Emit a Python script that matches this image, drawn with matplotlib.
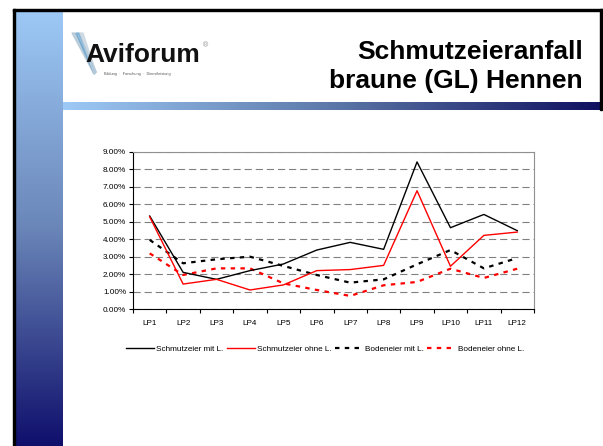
import numpy as np
import matplotlib
matplotlib.use("Agg")
import matplotlib.pyplot as plt
from matplotlib.colors import LinearSegmentedColormap
from matplotlib.patches import Rectangle, Polygon

plt.rcParams['font.family'] = ['Liberation Sans', 'DejaVu Sans']

# Daten (Anteil Schmutzeier in %)
categories = ["LP1", "LP2", "LP3", "LP4", "LP5", "LP6", "LP7", "LP8", "LP9", "LP10", "LP11", "LP12"]
schmutz_mit = [5.33, 2.10, 1.70, 2.20, 2.58, 3.38, 3.82, 3.42, 8.43, 4.66, 5.42, 4.49]
schmutz_ohne = [5.28, 1.43, 1.70, 1.09, 1.38, 2.20, 2.26, 2.50, 6.78, 2.45, 4.22, 4.41]
boden_mit = [3.96, 2.62, 2.85, 3.00, 2.47, 1.95, 1.51, 1.70, 2.56, 3.38, 2.33, 2.92]
boden_ohne = [3.19, 1.95, 2.33, 2.33, 1.47, 1.09, 0.75, 1.36, 1.55, 2.31, 1.78, 2.31]
y_ticks = [0, 1, 2, 3, 4, 5, 6, 7, 8, 9]

W, H = 603, 446
fig = plt.figure(figsize=(W / 100, H / 100), dpi=100)
fig.patch.set_facecolor("white")


def box(x0, y0, x1, y1):
    # Pixel-Koordinaten (oben links) -> figure fractions
    return [x0 / W, 1 - y1 / H, (x1 - x0) / W, (y1 - y0) / H]


def px(x, y):
    return x / W, 1 - y / H


# --- Folienhintergrund ---
vcmap = LinearSegmentedColormap.from_list("v", ["#9dc9f6", "#6a86b8", "#0f0f6c"])
ax_bar = fig.add_axes(box(15, 10, 63, 446))
ax_bar.imshow(np.linspace(0, 1, 256).reshape(-1, 1), aspect="auto", cmap=vcmap)
ax_bar.axis("off")

hcmap = LinearSegmentedColormap.from_list("h", ["#9dc9f6", "#5c78a8", "#101060"])
ax_hbar = fig.add_axes(box(63, 102, 600, 110))
ax_hbar.imshow(np.linspace(0, 1, 256).reshape(1, -1), aspect="auto", cmap=hcmap)
ax_hbar.axis("off")

fig.patches.append(Rectangle((13 / W, 1 - 11 / H), (W - 13) / W, 2 / H,
                             transform=fig.transFigure, color="black"))
fig.patches.append(Rectangle((13 / W, 0), 2 / W, 1 - 9 / H,
                             transform=fig.transFigure, color="black"))
fig.patches.append(Rectangle((600 / W, 1 - 110 / H), 2 / W, 101 / H,
                             transform=fig.transFigure, color="black"))

# --- Logo ---
for dx, col in [(0, "#a9bfd0"), (4, "#6aa3cf"), (8, "#c3d1dc")]:
    fig.patches.append(Polygon([px(72 + dx, 33), px(75 + dx, 33), px(96, 72), px(94, 74)],
                               closed=True, transform=fig.transFigure, color=col, alpha=0.7))
fig.text(*px(85, 62), "Aviforum", fontsize=19, fontweight="bold", color="#111111",
         ha="left", va="baseline")
fig.text(*px(203, 46), "®", fontsize=5, color="#888888", ha="left", va="center")
fig.text(*px(104, 74), "Bildung  ·  Forschung  ·  Dienstleistung", fontsize=2.8,
         color="#555555", ha="left", va="center")

# --- Titel ---
fig.text(*px(583, 59), "Schmutzeieranfall", fontsize=19, fontweight="bold",
         ha="right", va="baseline")
fig.text(*px(583, 88), "braune (GL) Hennen", fontsize=19, fontweight="bold",
         ha="right", va="baseline")

# --- Diagramm ---
ax = fig.add_axes(box(133, 152, 534, 309))
x = np.arange(1, len(categories) + 1)
ax.plot(x, schmutz_mit, color="black", lw=1.0, label="Schmutzeier mit L.", zorder=4)
ax.plot(x, schmutz_ohne, color="red", lw=1.0, label="Schmutzeier ohne L.", zorder=4)
ax.plot(x, boden_mit, color="black", lw=1.6, ls=(0, (2, 2.4)), label="Bodeneier mit L.", zorder=3)
ax.plot(x, boden_ohne, color="red", lw=1.6, ls=(0, (2, 2.4)), label="Bodeneier ohne L.", zorder=3)

ax.set_xlim(0.5, len(categories) + 0.5)
ax.set_ylim(0, 9)
ax.set_yticks(y_ticks)
ax.set_yticklabels([f"{v:.2f}%" for v in y_ticks])
ax.set_xticks(x)
ax.set_xticklabels(categories)
ax.set_xticks(np.arange(0.5, len(categories) + 1), minor=True)
ax.tick_params(axis="x", which="major", length=0, pad=8, labelsize=5.9)
ax.tick_params(axis="x", which="minor", length=3, width=0.8, direction="out")
ax.tick_params(axis="y", length=3, width=0.8, pad=2, labelsize=5.9)
ax.yaxis.grid(True, color="#808080", lw=0.8, ls=(0, (6.5, 3.5)))
ax.set_axisbelow(True)
for s in ["top", "right"]:
    ax.spines[s].set_color("#909090")
    ax.spines[s].set_linewidth(0.8)
for s in ["left", "bottom"]:
    ax.spines[s].set_color("black")
    ax.spines[s].set_linewidth(0.8)

handles, labels = ax.get_legend_handles_labels()
fig.legend(handles, labels, loc="center", bbox_to_anchor=px(325, 349), ncol=4,
           frameon=False, fontsize=5.9, handlelength=3.4, handletextpad=0.3,
           columnspacing=0.4, borderaxespad=0)

fig.savefig("out.png", dpi=100)
